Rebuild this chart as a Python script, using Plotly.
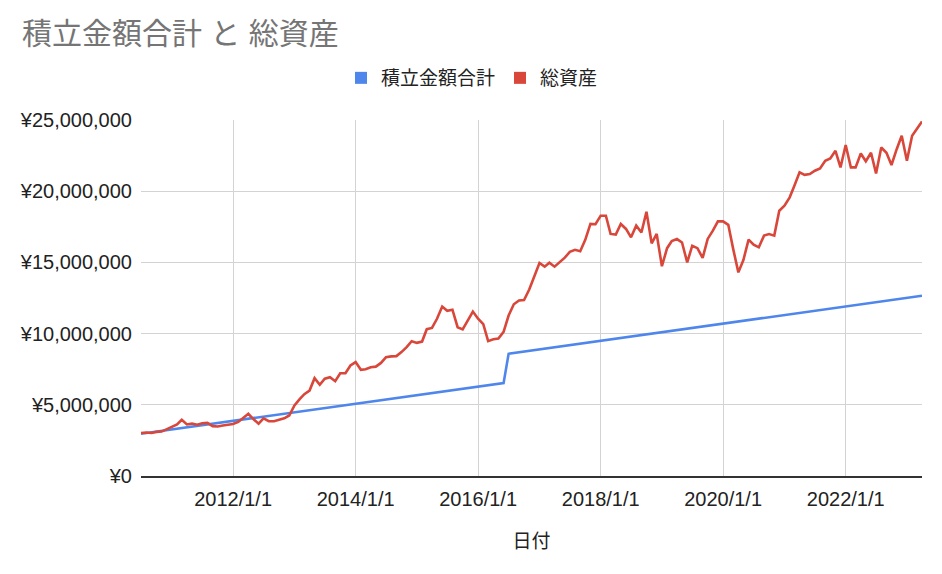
import pandas as pd
import plotly.graph_objects as go

# ---- data (values in millions of yen) ----
start_month = "2010-07-01"
total_assets_m = [
    3.02, 3.05, 3.02, 3.10, 3.12, 3.30, 3.45, 3.62, 3.95, 3.62,
    3.68, 3.60, 3.70, 3.73, 3.50, 3.48, 3.55, 3.60, 3.65, 3.80,
    4.10, 4.37, 4.00, 3.67, 4.05, 3.85, 3.85, 3.95, 4.05, 4.25,
    4.95, 5.40, 5.75, 6.00, 6.87, 6.41, 6.83, 6.94, 6.66, 7.22,
    7.22, 7.76, 8.00, 7.46, 7.50, 7.64, 7.68, 7.94, 8.35, 8.40,
    8.42, 8.70, 9.05, 9.47, 9.35, 9.44, 10.31, 10.40, 11.04, 11.90,
    11.60, 11.68, 10.45, 10.30, 10.95, 11.55, 11.05, 10.66, 9.47, 9.60,
    9.66, 10.12, 11.27, 12.06, 12.32, 12.36, 13.10, 14.03, 14.96, 14.70,
    14.98, 14.70, 15.00, 15.33, 15.74, 15.88, 15.78, 16.58, 17.70, 17.68,
    18.28, 18.28, 17.00, 16.95, 17.70, 17.35, 16.76, 17.58, 17.10, 18.56,
    16.34, 17.00, 14.73, 16.00, 16.50, 16.64, 16.40, 15.00, 16.17, 16.00,
    15.31, 16.65, 17.23, 17.88, 17.88, 17.64, 15.95, 14.30, 15.17, 16.60,
    16.25, 16.06, 16.88, 16.99, 16.88, 18.63, 18.98, 19.57, 20.39, 21.32,
    21.15, 21.20, 21.44, 21.60, 22.14, 22.30, 22.84, 21.67, 23.24, 21.67,
    21.67, 22.65, 22.10, 22.70, 21.25, 23.07, 22.70, 21.84, 22.95, 23.89,
    22.14, 23.89, 24.36, 24.90,
]
contrib_dates = ["2010-07-01", "2016-06-01", "2016-07-01", "2023-04-01"]
contrib_total_m = [2.97, 6.52, 8.58, 12.66]

x_tick_vals = ["2012-01-01", "2014-01-01", "2016-01-01", "2018-01-01", "2020-01-01", "2022-01-01"]
x_tick_text = ["2012/1/1", "2014/1/1", "2016/1/1", "2018/1/1", "2020/1/1", "2022/1/1"]

series_names = ["積立金額合計", "総資産"]
title_text = "積立金額合計 と 総資産"
x_title = "日付"

# ---- build ----
asset_dates = pd.date_range(start_month, periods=len(total_assets_m), freq="MS")
assets = [v * 1_000_000 for v in total_assets_m]
contrib = [v * 1_000_000 for v in contrib_total_m]

BLUE = "#4f86ec"
RED = "#d8473a"
FONT = "Arial, 'Liberation Sans', 'Noto Sans CJK JP', sans-serif"

W, H = 934, 566   # page body has an 8px margin; keeps the figure inside the 942x574 window
OFF = 8

fig = go.Figure()
fig.add_trace(go.Scatter(x=contrib_dates, y=contrib, mode="lines", name=series_names[0],
                         line=dict(color=BLUE, width=2.6), showlegend=False))
fig.add_trace(go.Scatter(x=asset_dates, y=assets, mode="lines", name=series_names[1],
                         line=dict(color=RED, width=2.6), showlegend=False))
# legend entries (square swatches)
for nm, col in zip(series_names, [BLUE, RED]):
    fig.add_trace(go.Scatter(x=[None], y=[None], mode="markers", name=nm,
                             marker=dict(symbol="square", size=12, color=col)))

fig.update_layout(
    width=W, height=H,
    margin=dict(l=138 - OFF, r=20, t=119 - OFF, b=98),
    paper_bgcolor="white", plot_bgcolor="white",
    font=dict(family=FONT, color="#222222"),
    title=dict(text=title_text, xref="container", yref="container",
               x=(22 - OFF) / W, xanchor="left", y=1 - (33 - OFF) / H, yanchor="middle",
               font=dict(size=30, color="#757575", family=FONT)),
    legend=dict(orientation="h", xref="container", yref="container",
                x=(472 - OFF) / W, xanchor="center", y=1 - (78 - OFF) / H, yanchor="middle",
                font=dict(size=19, color="#222222"), itemwidth=30, bgcolor="rgba(0,0,0,0)"),
    xaxis=dict(type="date", range=["2010-07-01", "2023-04-01"],
               tickvals=x_tick_vals, ticktext=x_tick_text,
               showgrid=True, gridcolor="#d3d3d3", gridwidth=1,
               showline=True, linecolor="#333333", linewidth=1.5,
               ticks="", tickfont=dict(size=20, color="#222222"), ticklabelstandoff=4,
               title=dict(text=x_title, font=dict(size=19, color="#222222"), standoff=26),
               zeroline=False),
    yaxis=dict(range=[0, 25_000_000], dtick=5_000_000, tickprefix="¥", tickformat=",d",
               showgrid=True, gridcolor="#d3d3d3", gridwidth=1,
               zeroline=False, showline=False, ticks="",
               tickfont=dict(size=20, color="#222222"), ticklabelstandoff=8),
    hovermode="x unified",
)

fig.write_html("out.html")
